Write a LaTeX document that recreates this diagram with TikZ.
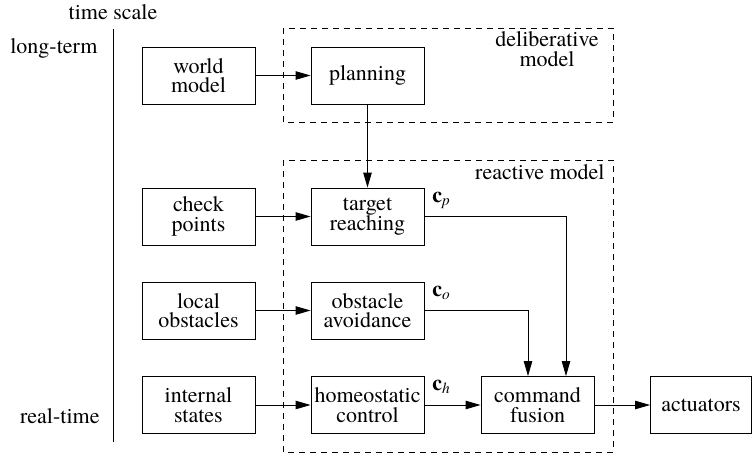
\documentclass[tikz,border=0pt]{standalone}
\usepackage{fontspec}
\setmainfont{texgyretermes}[Extension=.otf,UprightFont=*-regular,BoldFont=*-bold,ItalicFont=*-italic,BoldItalicFont=*-bolditalic]
\usepackage{tikz}
\usetikzlibrary{arrows.meta}

\begin{document}
\begin{tikzpicture}[x=1pt,y=-1pt,line width=0.9pt,
    font=\fontsize{22}{19.5}\selectfont,
    blok/.style={draw,minimum width=113pt,minimum height=57pt,inner sep=0pt,align=center},
    kader/.style={draw,dash pattern=on 6pt off 5pt,line width=0.8pt},
    pijl/.style={-{Triangle[length=15pt,width=8.5pt]}},
    cmd/.style={anchor=base west,inner sep=0pt}]
                \useasboundingbox (0,0) rectangle (753,458);
                \node (ts) at (113,12) {time scale};
                \node[anchor=east,inner sep=0pt] (lt) at (98,48) {long-term};
                \node[anchor=east,inner sep=0pt] (rt) at (100,416) {real-time};
                \draw (113,29) -- (113,442);
                \draw[kader] (283,28) rectangle (613,122);
                \draw[kader] (283,160) rectangle (613,452);
                \node[align=center] (dm) at (547,49) {deliberative\\model};
                \node[anchor=east,inner sep=0pt] (rm) at (605,172) {reactive model};
                \node[blok] (world) at (198.5,75.5) {world\\model};
                \node[blok] (plan) at (367.5,75.5) {planning};
                \node[blok] (check) at (198.5,216.5) {check\\points};
                \node[blok] (target) at (367.5,216.5) {target\\reaching};
                \node[blok] (local) at (198.5,310.5) {local\\obstacles};
                \node[blok] (avoid) at (367.5,310.5) {obstacle\\avoidance};
                \node[blok] (internal) at (198.5,405) {internal\\states};
                \node[blok] (homeo) at (367.5,405) {homeostatic\\control};
                \node[blok] (fusion) at (537.5,405) {command\\fusion};
                \node[blok,minimum width=101pt] (act) at (701,405) {actuators};
                \draw[pijl] (world) -- (plan);
                \draw[pijl] (plan) -- (target);
                \draw[pijl] (check) -- (target);
                \draw[pijl] (local) -- (avoid);
                \draw[pijl] (internal) -- (homeo);
                \draw[pijl] (homeo) -- (fusion);
                \draw[pijl] (fusion) -- (act);
                \draw[pijl] (target.east) -| ([xshift=28.5pt]fusion.north);
                \draw[pijl] (avoid.east) -| ([xshift=-9.5pt]fusion.north);
                \node[cmd] (cp) at (432,202) {\textbf{c}\textsubscript{\itshape p}};
                \node[cmd] (co) at (432,296) {\textbf{c}\textsubscript{\itshape o}};
                \node[cmd] (ch) at (432,390) {\textbf{c}\textsubscript{\itshape h}};
            \end{tikzpicture}
\end{document}
